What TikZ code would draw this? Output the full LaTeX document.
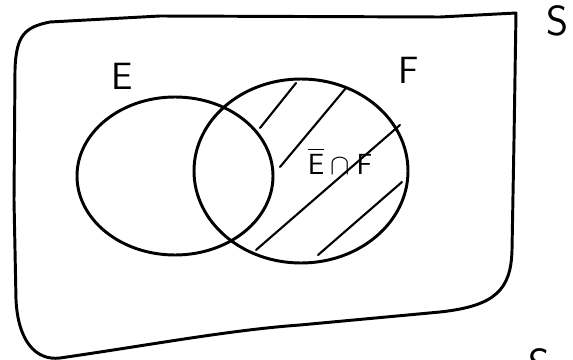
\documentclass[tikz,border=0pt]{standalone}
\usepackage{amsmath,amssymb}
\usetikzlibrary{calc}

\begin{document}
\begin{tikzpicture}[x=0.025cm, y=-0.025cm,
    setline/.style={line width=2.1pt, line join=round, line cap=round},
    hatchline/.style={line width=1.5pt, line cap=round},
    setlabel/.style={font=\sffamily\fontsize{27}{30}\selectfont}]
  \useasboundingbox (0,0) rectangle (573,360);
  \clip (0,0) rectangle (573,360);
  % Sample space outline
  \draw[setline] (14,200) -- (15,70) .. controls (16,35) and (25,27) .. (50,22) -- (160,16) -- (440,17) -- (516,13) -- (514,140) -- (512,250) .. controls (511,290) and (495,306) .. (440,312) -- (300,325) .. controls (230,330) and (150,345) .. (60,358) .. controls (35,361) and (18,340) .. (16,300) -- cycle;
  % Events E and F
  \draw[setline] (175,176) ellipse [x radius=98, y radius=79];
  \draw[setline] (301,171) ellipse [x radius=107, y radius=92];
  % Hatching of the shaded part
  \draw[hatchline] (260,128) -- (296,83);
  \draw[hatchline] (280,167) -- (346,88);
  \draw[hatchline] (256,250) -- (400,125);
  \draw[hatchline] (318,255) -- (402,182);
  % Labels
  \node[setlabel] (lblE) at (122,76) {E};
  \node[setlabel] (lblF) at (409,70) {F};
  \node[setlabel, font=\sffamily\fontsize{30}{34}\selectfont] (lblS) at (558,21) {S};
  \node[setlabel, font=\sffamily\fontsize{30}{34}\selectfont] (lblSb) at (540,364) {S};
  \node[font=\sffamily\fontsize{21}{24}\selectfont] (lblEF) at (340,161) {$\overline{\mathsf{E}}\cap\mathsf{F}$};
\end{tikzpicture}
\end{document}
